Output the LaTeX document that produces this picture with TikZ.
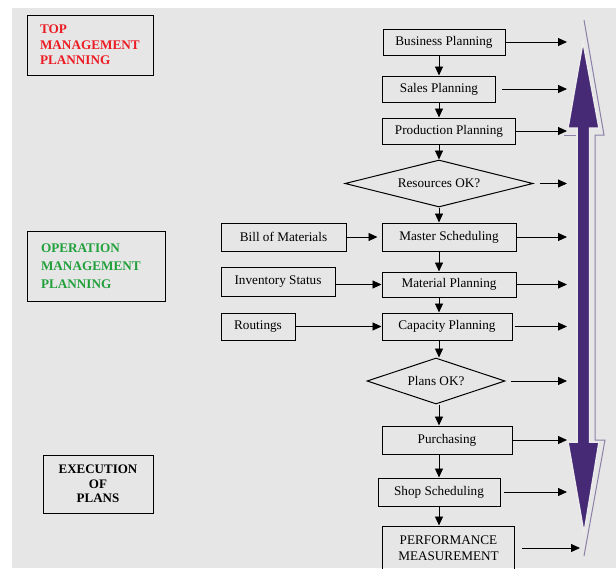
\documentclass[tikz,border=0pt]{standalone}
\usepackage{fontspec}
\setmainfont{Liberation Serif}
\usetikzlibrary{shapes.geometric,arrows.meta}
\definecolor{bggray}{RGB}{230,230,230}
\definecolor{topred}{RGB}{236,28,36}
\definecolor{opgreen}{RGB}{34,160,60}
\definecolor{mrppurple}{RGB}{70,42,118}
\definecolor{edgegray}{RGB}{140,128,168}

\begin{document}
\begin{tikzpicture}[x=1pt,y=-1pt,
        font=\fontsize{13.2}{16}\selectfont,
        stage/.style={draw, line width=1pt, inner sep=2pt},
        check/.style={draw, diamond, line width=1pt, inner sep=0pt},
        level/.style={draw, line width=1pt, font=\fontsize{13.2}{15.5}\selectfont\bfseries},
        flow/.style={line width=0.9pt, -{Triangle[length=9pt,width=8pt]}}]
    \useasboundingbox (0,0) rectangle (616,568);
    \fill[bggray] (12,8) rectangle (616,568);

    % planning levels
    \node[level, text=topred, align=left, text width=100pt, inner xsep=13pt, minimum height=60pt] (topmgmt) at (90,45) {TOP\\MANAGEMENT\\PLANNING};
    \node[level, text=opgreen, align=left, text width=110pt, inner xsep=14pt, minimum height=70pt,
        font=\fontsize{13.2}{18}\selectfont\bfseries] (opmgmt) at (96,266) {OPERATION\\MANAGEMENT\\PLANNING};
    \node[level, align=center, minimum width=110pt, minimum height=58pt,
        font=\fontsize{13}{14.5}\selectfont\bfseries] (exec) at (98,484) {EXECUTION\\OF\\PLANS};

    % main chain
    \coordinate (spine) at (439,0);
    \coordinate (rail) at (567,0);
    \coordinate (railp) at (580,0);
    \node[stage, minimum width=122pt, minimum height=26pt] (biz) at (444,42) {Business Planning};
    \node[stage, minimum width=113pt, minimum height=26pt] (sales) at (439,89) {Sales Planning};
    \node[stage, minimum width=133pt, minimum height=26pt] (prod) at (449,131) {Production Planning};
    \node[check, aspect=3.9, minimum width=188pt, minimum height=47pt] (res) at (439,183.5) {Resources OK?};
    \node[stage, minimum width=134pt, minimum height=28pt] (master) at (449,237) {Master Scheduling};
    \node[stage, minimum width=134pt, minimum height=25pt] (mat) at (449,284.5) {Material Planning};
    \node[stage, minimum width=130pt, minimum height=27pt] (cap) at (447,326.5) {Capacity Planning};
    \node[check, aspect=3, minimum width=138pt, minimum height=46pt] (plans) at (436,381) {Plans OK?};
    \node[stage, minimum width=130pt, minimum height=28pt] (purch) at (447,440) {Purchasing};
    \node[stage, minimum width=122pt, minimum height=28pt] (shop) at (439,492) {Shop Scheduling};
    \node[stage, minimum width=132pt, minimum height=44pt, align=center,
        font=\fontsize{13.2}{16.5}\selectfont] (perf) at (448.5,548) {PERFORMANCE\\MEASUREMENT};

    % inputs
    \node[stage, minimum width=125pt, minimum height=28pt] (bom) at (283.5,237) {Bill of Materials};
    \node[stage, minimum width=114pt, minimum height=29pt] (inv) at (278,282) {Inventory Status};
    \node[stage, minimum width=74pt, minimum height=27pt] (rout) at (258,326.5) {Routings};

    \draw[flow] (biz.south -| spine) -- (sales.north -| spine);
    \draw[flow] (sales.south -| spine) -- (prod.north -| spine);
    \draw[flow] (prod.south -| spine) -- (res.north -| spine);
    \draw[flow] (res.south -| spine) -- (master.north -| spine);
    \draw[flow] (master.south -| spine) -- (mat.north -| spine);
    \draw[flow] (mat.south -| spine) -- (cap.north -| spine);
    \draw[flow] (cap.south -| spine) -- (plans.north -| spine);
    \draw[flow] (plans.south -| spine) -- (purch.north -| spine);
    \draw[flow] (purch.south -| spine) -- (shop.north -| spine);
    \draw[flow] (shop.south -| spine) -- (perf.north -| spine);

    \draw[flow, shorten >=4pt] (bom.east |- master.west) -- (master.west);
    \draw[flow] (inv.east |- mat.west) -- (mat.west);
    \draw[flow] (rout.east |- cap.west) -- (cap.west);

    \draw[flow] (biz.east) -- (biz.east -| rail);
    \draw[flow, shorten <=6pt] (sales.east) -- (sales.east -| rail);
    \draw[flow] (prod.east) -- (prod.east -| rail);
    \draw[flow, shorten <=6pt] (res.east) -- (res.east -| rail);
    \draw[flow] (master.east) -- (master.east -| rail);
    \draw[flow] (mat.east) -- (mat.east -| rail);
    \draw[flow, shorten <=2pt] (cap.east) -- (cap.east -| rail);
    \draw[flow, shorten <=5pt] (plans.east) -- (plans.east -| rail);
    \draw[flow] (purch.east) -- (purch.east -| rail);
    \draw[flow, shorten <=3pt] (shop.east) -- (shop.east -| rail);
    \draw[flow, shorten <=7pt] (perf.east) -- (perf.east -| railp);

    % two way arrow
    \draw[edgegray, line width=1pt] (584,20) -- (604,135) -- (595,135) -- (595,440) -- (605,440) -- (584,556);
    \draw[edgegray, line width=1pt] (564,135) -- (576,135);
    \filldraw[fill=mrppurple, draw=white!92!black, line width=1.5pt]
        (583,42) -- (599,128) -- (589.5,128) -- (589.5,442) -- (599,442) -- (584,533)
        -- (568,442) -- (577,442) -- (577,128) -- (568,128) -- cycle;
\end{tikzpicture}
\end{document}
